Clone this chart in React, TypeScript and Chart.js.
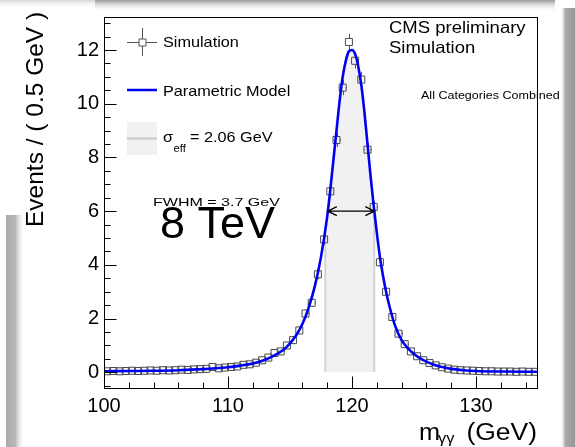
import { useEffect, useRef } from "react";
import { Chart, registerables } from "chart.js";

Chart.register(...registerables);

// ---- data ----
const massBins = [
  100.25, 100.75, 101.25, 101.75, 102.25, 102.75, 103.25, 103.75, 104.25, 104.75,
  105.25, 105.75, 106.25, 106.75, 107.25, 107.75, 108.25, 108.75, 109.25, 109.75,
  110.25, 110.75, 111.25, 111.75, 112.25, 112.75, 113.25, 113.75, 114.25, 114.75,
  115.25, 115.75, 116.25, 116.75, 117.25, 117.75, 118.25, 118.75, 119.25, 119.75,
  120.25, 120.75, 121.25, 121.75, 122.25, 122.75, 123.25, 123.75, 124.25, 124.75,
  125.25, 125.75, 126.25, 126.75, 127.25, 127.75, 128.25, 128.75, 129.25, 129.75,
  130.25, 130.75, 131.25, 131.75, 132.25, 132.75, 133.25, 133.75, 134.25, 134.75,
];
const simEvents = [
  0.04, 0.05, 0.04, 0.05, 0.06, 0.05, 0.06, 0.07, 0.06, 0.08,
  0.07, 0.08, 0.10, 0.09, 0.11, 0.12, 0.13, 0.20, 0.15, 0.18,
  0.20, 0.22, 0.28, 0.30, 0.36, 0.45, 0.55, 0.72, 0.78, 1.00,
  1.20, 1.56, 2.19, 2.59, 3.65, 4.95, 6.74, 8.65, 10.60, 12.30,
  11.60, 10.90, 8.29, 6.16, 4.10, 3.00, 2.06, 1.44, 1.05, 0.78,
  0.60, 0.45, 0.35, 0.26, 0.19, 0.14, 0.10, 0.08, 0.07, 0.06,
  0.05, 0.04, 0.04, 0.03, 0.03, 0.03, 0.02, 0.03, 0.02, 0.02,
];
const simErrors = [
  0.02, 0.02, 0.02, 0.02, 0.02, 0.02, 0.02, 0.02, 0.02, 0.03,
  0.03, 0.03, 0.03, 0.03, 0.03, 0.03, 0.04, 0.05, 0.04, 0.04,
  0.05, 0.05, 0.05, 0.06, 0.06, 0.07, 0.07, 0.08, 0.09, 0.10,
  0.11, 0.12, 0.14, 0.15, 0.18, 0.20, 0.23, 0.26, 0.28, 0.30,
  0.29, 0.28, 0.25, 0.21, 0.17, 0.15, 0.12, 0.10, 0.09, 0.08,
  0.07, 0.06, 0.05, 0.05, 0.04, 0.04, 0.03, 0.03, 0.03, 0.02,
  0.02, 0.02, 0.02, 0.02, 0.02, 0.02, 0.02, 0.02, 0.02, 0.02,
];
const modelMass = [
  100, 102, 104, 106, 108, 109, 110, 111, 112, 113, 114, 114.5, 115, 115.5, 116,
  116.5, 117, 117.5, 118, 118.25, 118.5, 118.75, 119, 119.25, 119.5, 119.75, 120,
  120.25, 120.5, 120.75, 121, 121.25, 121.5, 121.75, 122, 122.25, 122.5, 122.75,
  123, 123.5, 124, 124.5, 125, 125.5, 126, 126.5, 127, 128, 129, 130, 132, 135,
];
const modelEvents = [
  0.04, 0.05, 0.06, 0.08, 0.12, 0.15, 0.19, 0.25, 0.33, 0.47, 0.70, 0.85, 1.08, 1.38, 1.80,
  2.40, 3.20, 4.30, 5.80, 6.80, 7.90, 9.00, 10.10, 11.00, 11.60, 11.95, 12.00,
  11.85, 11.40, 10.70, 9.70, 8.50, 7.30, 6.20, 5.20, 4.30, 3.60, 3.00,
  2.50, 1.70, 1.20, 0.90, 0.68, 0.52, 0.40, 0.30, 0.23, 0.13, 0.08, 0.05, 0.03, 0.02,
];
const binHalfWidth = 0.25;
const sigmaEffRange = [117.76, 121.88];
const fwhmRange = [118.05, 121.8];
const fwhmLevel = 6.0;
const xMajorTicks = [100, 110, 120, 130];
const xMinorTicks = [102, 104, 106, 108, 112, 114, 116, 118, 122, 124, 126, 128, 132, 134];
const yMajorTicks = [0, 2, 4, 6, 8, 10, 12];
const yMinorTicks = [-0.5, 0.5, 1, 1.5, 2.5, 3, 3.5, 4.5, 5, 5.5, 6.5, 7, 7.5, 8.5, 9, 9.5, 10.5, 11, 11.5, 12.5, 13];
const xRange = [100, 135];
const yRange = [-0.62, 13.23];

const FONT = '"Liberation Sans", Arial, Helvetica, sans-serif';
const SX = 1.12;

function txt(ctx: CanvasRenderingContext2D, s: string, x: number, y: number, size: number, sx = 1, align: CanvasTextAlign = "left") {
  ctx.save();
  ctx.font = `${size}px ${FONT}`;
  ctx.textBaseline = "alphabetic";
  ctx.textAlign = align;
  ctx.fillStyle = "#000";
  ctx.translate(x, y);
  ctx.scale(sx, 1);
  ctx.fillText(s, 0, 0);
  const w = ctx.measureText(s).width * sx;
  ctx.restore();
  return w;
}

const rootPlugin = {
  id: "rootPlugin",
  beforeDraw(chart: any) {
    const ctx: CanvasRenderingContext2D = chart.ctx;
    const W = chart.width, H = chart.height;
    ctx.save();
    ctx.fillStyle = "#fff";
    ctx.fillRect(0, 0, W, H);
    // drop-shadow artefacts of the pasted plot
    let g = ctx.createLinearGradient(0, 0, 0, 12);
    g.addColorStop(0, "rgba(150,150,150,0.95)");
    g.addColorStop(1, "rgba(255,255,255,0)");
    ctx.fillStyle = g;
    ctx.fillRect(95, 0, 460, 12);
    g = ctx.createLinearGradient(0, 0, 0, 8);
    g.addColorStop(0, "rgba(210,210,210,0.9)");
    g.addColorStop(1, "rgba(255,255,255,0)");
    ctx.fillStyle = g;
    ctx.fillRect(0, 0, 95, 8);
    g = ctx.createLinearGradient(560, 0, 575, 0);
    g.addColorStop(0, "rgba(255,255,255,0)");
    g.addColorStop(0.35, "rgba(170,170,170,1)");
    g.addColorStop(1, "rgba(150,150,150,1)");
    ctx.fillStyle = g;
    ctx.fillRect(560, 8, 15, H - 8);
    g = ctx.createLinearGradient(6, 0, 25, 0);
    g.addColorStop(0, "rgba(170,170,170,1)");
    g.addColorStop(0.5, "rgba(185,185,185,1)");
    g.addColorStop(1, "rgba(255,255,255,0)");
    ctx.fillStyle = g;
    ctx.fillRect(6, 215, 19, H - 215);
    ctx.restore();
  },
  beforeDatasetsDraw(chart: any) {
    const ctx: CanvasRenderingContext2D = chart.ctx;
    const xs = chart.scales.x, ys = chart.scales.y;
    const area = chart.chartArea;
    const y0 = ys.getPixelForValue(0);
    const modelMeta = chart.getDatasetMeta(0);
    const line = modelMeta.dataset;
    const pts = modelMeta.data;
    const xa = xs.getPixelForValue(sigmaEffRange[0]);
    const xb = xs.getPixelForValue(sigmaEffRange[1]);
    ctx.save();
    ctx.beginPath();
    ctx.rect(xa, area.top, xb - xa, y0 - area.top);
    ctx.clip();
    ctx.beginPath();
    line.path(ctx);
    ctx.lineTo(pts[pts.length - 1].x, y0);
    ctx.lineTo(pts[0].x, y0);
    ctx.closePath();
    ctx.fillStyle = "#f1f1f1";
    ctx.fill();
    ctx.clip();
    ctx.strokeStyle = "#d2d2d2";
    ctx.lineWidth = 2;
    ctx.beginPath();
    ctx.moveTo(xa + 1, area.top);
    ctx.lineTo(xa + 1, y0);
    ctx.moveTo(xb - 1, area.top);
    ctx.lineTo(xb - 1, y0);
    ctx.stroke();
    ctx.restore();

    // error bars of the simulation points
    ctx.save();
    ctx.beginPath();
    ctx.rect(area.left, area.top, area.right - area.left, area.bottom - area.top);
    ctx.clip();
    ctx.strokeStyle = "#555";
    ctx.lineWidth = 1;
    const half = 3.5;
    ctx.beginPath();
    massBins.forEach((m, i) => {
      const px = Math.round(xs.getPixelForValue(m)) + 0.5;
      const py = ys.getPixelForValue(simEvents[i]);
      const top = ys.getPixelForValue(simEvents[i] + simErrors[i]);
      const bot = ys.getPixelForValue(simEvents[i] - simErrors[i]);
      if (top < py - half) { ctx.moveTo(px, py - half); ctx.lineTo(px, top); }
      if (bot > py + half) { ctx.moveTo(px, py + half); ctx.lineTo(px, bot); }
      const l = xs.getPixelForValue(m - binHalfWidth);
      const r = xs.getPixelForValue(m + binHalfWidth);
      if (l < px - half) { ctx.moveTo(l, py); ctx.lineTo(px - half, py); ctx.moveTo(px + half, py); ctx.lineTo(r, py); }
    });
    ctx.stroke();
    ctx.restore();
  },
  afterDatasetsDraw(chart: any) {
    const ctx: CanvasRenderingContext2D = chart.ctx;
    const xs = chart.scales.x, ys = chart.scales.y;
    const a = chart.chartArea;
    ctx.save();
    ctx.strokeStyle = "#000";
    ctx.lineWidth = 1;
    ctx.strokeRect(a.left + 0.5, a.top + 0.5, a.right - a.left - 1, a.bottom - a.top - 1);
    ctx.beginPath();
    const L = a.left + 0.5;
    yMajorTicks.forEach((v) => { const y = Math.round(ys.getPixelForValue(v)) + 0.5; ctx.moveTo(L, y); ctx.lineTo(L + 12, y); });
    yMinorTicks.forEach((v) => { const y = Math.round(ys.getPixelForValue(v)) + 0.5; ctx.moveTo(L, y); ctx.lineTo(L + 6, y); });
    const B = a.bottom - 0.5;
    xMajorTicks.forEach((v) => { const x = Math.round(xs.getPixelForValue(v)) + 0.5; ctx.moveTo(x, B); ctx.lineTo(x, B - 12); });
    xMinorTicks.forEach((v) => { const x = Math.round(xs.getPixelForValue(v)) + 0.5; ctx.moveTo(x, B); ctx.lineTo(x, B - 6); });
    ctx.stroke();

    // FWHM arrow
    const fy = ys.getPixelForValue(fwhmLevel);
    const f1 = xs.getPixelForValue(fwhmRange[0]);
    const f2 = xs.getPixelForValue(fwhmRange[1]);
    ctx.lineWidth = 1.3;
    ctx.beginPath();
    ctx.moveTo(f1, fy); ctx.lineTo(f2, fy);
    ctx.moveTo(f1 + 9, fy - 4.5); ctx.lineTo(f1, fy); ctx.lineTo(f1 + 9, fy + 4.5);
    ctx.moveTo(f2 - 9, fy - 4.5); ctx.lineTo(f2, fy); ctx.lineTo(f2 - 9, fy + 4.5);
    ctx.stroke();
    ctx.restore();
  },
  afterDraw(chart: any) {
    const ctx: CanvasRenderingContext2D = chart.ctx;
    // legend
    ctx.save();
    ctx.strokeStyle = "#555";
    ctx.lineWidth = 1;
    const cx = 142.5, cy = 42.5, h = 3.5;
    ctx.beginPath();
    ctx.moveTo(127, cy); ctx.lineTo(cx - h, cy);
    ctx.moveTo(cx + h, cy); ctx.lineTo(157, cy);
    ctx.moveTo(cx, 28); ctx.lineTo(cx, cy - h);
    ctx.moveTo(cx, cy + h); ctx.lineTo(cx, 56);
    ctx.rect(cx - h, cy - h, 2 * h, 2 * h);
    ctx.stroke();
    ctx.strokeStyle = "#0000f0";
    ctx.lineWidth = 2.5;
    ctx.beginPath();
    ctx.moveTo(127, 90); ctx.lineTo(157, 90);
    ctx.stroke();
    ctx.fillStyle = "#f1f1f1";
    ctx.fillRect(127, 122, 30, 33);
    ctx.strokeStyle = "#c8c8c8";
    ctx.lineWidth = 2;
    ctx.beginPath();
    ctx.moveTo(127, 138.5); ctx.lineTo(157, 138.5);
    ctx.stroke();
    ctx.restore();

    txt(ctx, "Simulation", 163, 47, 14.5, SX);
    txt(ctx, "Parametric Model", 163, 95.5, 14.5, SX);
    let x = 163;
    x += txt(ctx, "σ", x, 142, 14.5, SX);
    txt(ctx, "eff", x + 0.5, 152, 10, SX);
    txt(ctx, "= 2.06 GeV", 190, 142, 14.5, SX);

    txt(ctx, "CMS preliminary", 389, 33, 16.5, SX);
    txt(ctx, "Simulation", 389, 53, 16.5, SX);
    txt(ctx, "All Categories Combined", 421, 99, 11.2, SX);

    txt(ctx, "FWHM = 3.7 GeV", 153, 206, 10.7, 1.5);
    txt(ctx, "8 TeV", 160, 238, 45, 1);

    // axis titles
    txt(ctx, "m", 419, 440, 23, 1.1);
    txt(ctx, "γγ", 438, 443, 15, 1.1);
    txt(ctx, "(GeV)", 537, 440, 23, 1.15, "right");

    ctx.save();
    ctx.translate(43, 227);
    ctx.rotate(-Math.PI / 2);
    ctx.font = `24.5px ${FONT}`;
    ctx.fillStyle = "#000";
    ctx.textAlign = "left";
    ctx.textBaseline = "alphabetic";
    ctx.fillText("Events / ( 0.5 GeV )", 0, 0);
    ctx.restore();
  },
};

export default function App() {
  const ref = useRef<HTMLCanvasElement | null>(null);
  useEffect(() => {
    const canvas = ref.current;
    if (!canvas) return;
    const chart = new Chart(canvas, {
      type: "scatter",
      data: {
        datasets: [
          {
            type: "line",
            label: "Parametric Model",
            data: modelMass.map((m, i) => ({ x: m, y: modelEvents[i] })),
            borderColor: "#0000f0",
            borderWidth: 2.6,
            pointRadius: 0,
            cubicInterpolationMode: "monotone",
            fill: false,
            order: 0,
          } as any,
          {
            type: "scatter",
            label: "Simulation",
            data: massBins.map((m, i) => ({ x: m, y: simEvents[i] })),
            pointStyle: "rect",
            pointRadius: 4.95,
            borderColor: "#4a4a4a",
            borderWidth: 1,
            backgroundColor: "rgba(0,0,0,0)",
            order: 1,
          } as any,
        ],
      },
      options: {
        animation: false,
        responsive: false,
        maintainAspectRatio: false,
        devicePixelRatio: 1,
        events: [],
        layout: { padding: { left: 0, right: 37, top: 8, bottom: 0 } },
        plugins: { legend: { display: false }, tooltip: { enabled: false }, title: { display: false } },
        scales: {
          x: {
            type: "linear",
            min: xRange[0],
            max: xRange[1],
            grid: { display: false, drawTicks: false },
            border: { display: false },
            afterBuildTicks: (s: any) => { s.ticks = xMajorTicks.map((v) => ({ value: v })); },
            afterFit: (s: any) => { s.height = 58; },
            ticks: { color: "#000", font: { family: FONT, size: 20 }, padding: 5, maxRotation: 0, autoSkip: false, callback: (v: any) => String(v) },
          },
          y: {
            type: "linear",
            min: yRange[0],
            max: yRange[1],
            grid: { display: false, drawTicks: false },
            border: { display: false },
            afterBuildTicks: (s: any) => { s.ticks = yMajorTicks.map((v) => ({ value: v })); },
            afterFit: (s: any) => { s.width = 104; },
            ticks: { color: "#000", font: { family: FONT, size: 20 }, padding: 5, callback: (v: any) => String(v) },
          },
        },
      },
      plugins: [rootPlugin],
    } as any);
    return () => chart.destroy();
  }, []);
  return (
    <div style={{ position: "fixed", left: 0, top: 0, width: 575, height: 447, background: "#fff" }}>
      <canvas ref={ref} width={575} height={447} style={{ display: "block", width: 575, height: 447 }} />
    </div>
  );
}
